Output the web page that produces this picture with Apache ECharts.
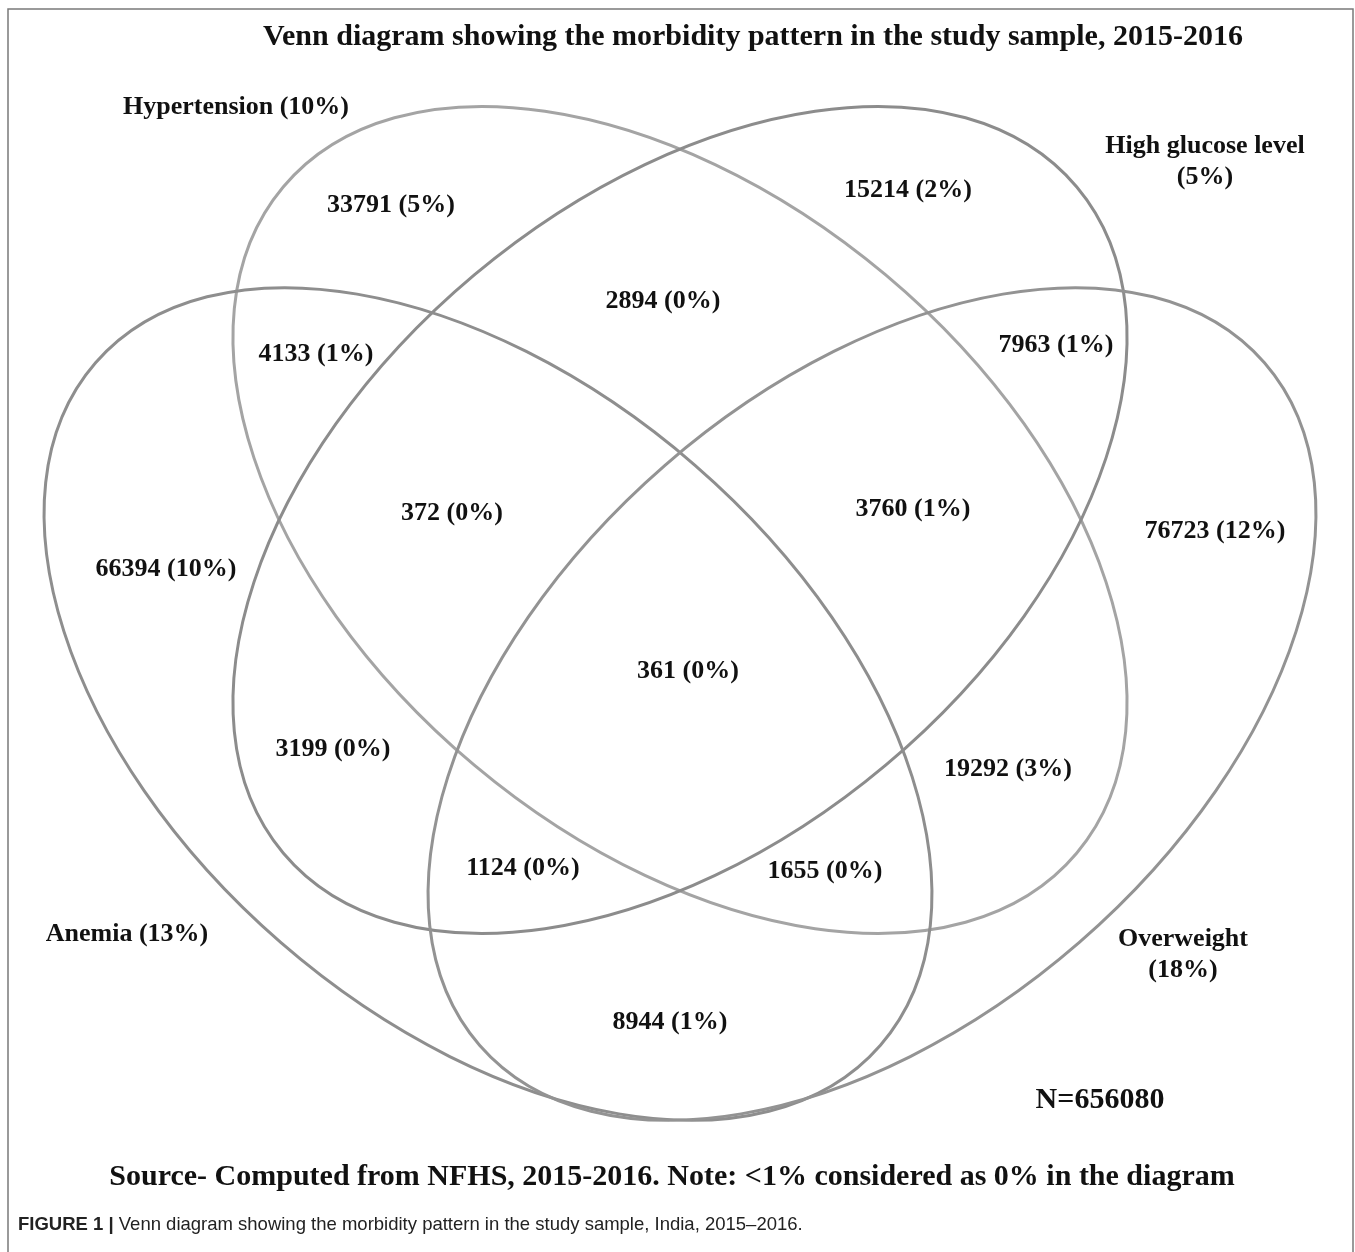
<!DOCTYPE html>
<html>
<head>
<meta charset="utf-8">
<title>Venn diagram - morbidity pattern</title>
<script src="https://cdn.jsdelivr.net/npm/echarts@6/dist/echarts.min.js"></script>
<style>
html, body { margin: 0; padding: 0; background: #fff; }
#chart { width: 1355px; height: 1252px; }
</style>
</head>
<body>
<div id="chart"></div>
<script>
// the four sets
const setNames = ['Hypertension', 'High glucose level', 'Anemia', 'Overweight']
const setPercents = [10, 5, 13, 18]

// the 15 regions: H=hypertension, G=glucose, A=anemia, O=overweight
const regionSets = ['H', 'G', 'A', 'O', 'HG', 'HA', 'GO', 'HO', 'GA', 'AO', 'HGA', 'HGO', 'HAO', 'GAO', 'HGAO']
const regionCounts = [33791, 15214, 66394, 76723, 2894, 4133, 7963, 19292, 3199, 8944, 372, 3760, 1655, 1124, 361]
const regionPercents = [5, 2, 10, 12, 0, 1, 1, 3, 0, 1, 0, 1, 0, 0, 0]
const totalN = 656080

// layout in diagram units (axes run 0..1355 and 0..1252)
// ellipse: centre x, centre y, semi-major, semi-minor, tilt in degrees (clockwise)
const ellipseLayout = [
  [680, 520, 518, 320, 40],
  [680, 520, 518, 320, -40],
  [488, 704, 520, 316, 41],
  [872, 704, 520, 316, -41]
]
const ellipseColors = ['#a4a4a4', '#8c8c8c', '#8e8e8e', '#939393']
const regionLabelPos = [
  [391, 205], [908, 190], [166, 569], [1215, 531],
  [663, 301], [316, 354], [1056, 345], [1008, 769], [333, 749], [670, 1022],
  [452, 513], [913, 509], [825, 871], [523, 868],
  [688, 671]
]
const setLabelPos = [[236, 107], [1205, 162], [127, 934], [1183, 955]]
const setLabelBreak = [false, true, false, true]

const serif = 'Liberation Serif, Times New Roman, serif'

const chart = echarts.init(document.getElementById('chart'))

const regionData = regionCounts.map((v, i) => ({
  value: regionLabelPos[i],
  name: v + ' (' + regionPercents[i] + '%)'
}))
const setLabelData = setNames.map((n, i) => ({
  value: setLabelPos[i],
  name: n + (setLabelBreak[i] ? '\n' : ' ') + '(' + setPercents[i] + '%)'
}))

function renderEllipse(params, api) {
  const c = api.coord([api.value(0), api.value(1)])
  const s = api.size([api.value(2), api.value(3)])
  return {
    type: 'ellipse',
    x: c[0],
    y: c[1],
    rotation: -api.value(4) * Math.PI / 180,
    shape: {cx: 0, cy: 0, rx: s[0], ry: s[1]},
    style: {fill: 'none', stroke: ellipseColors[params.dataIndex], lineWidth: 3}
  }
}

function textRenderer(list) {
  return function (params, api) {
    const c = api.coord([api.value(0), api.value(1)])
    return {
      type: 'text',
      x: c[0],
      y: c[1],
      style: {
        text: list[params.dataIndex].name,
        fontFamily: serif,
        fontWeight: 'bold',
        fontSize: 26,
        lineHeight: 31,
        fill: '#111',
        align: 'center',
        verticalAlign: 'middle',
        textAlign: 'center',
        textVerticalAlign: 'middle'
      }
    }
  }
}

const option = {
  animation: false,
  backgroundColor: '#fff',
  grid: {left: 0, right: 0, top: 0, bottom: 0},
  xAxis: {type: 'value', min: 0, max: 1355, show: false},
  yAxis: {type: 'value', min: 0, max: 1252, inverse: true, show: false},
  graphic: [
    {
      type: 'rect',
      shape: {x: 8, y: 9, width: 1345, height: 1280},
      style: {fill: 'none', stroke: '#7a7a7a', lineWidth: 1.5},
      silent: true
    },
    {
      type: 'text',
      x: 753,
      y: 37,
      style: {
        text: 'Venn diagram showing the morbidity pattern in the study sample, 2015-2016',
        fontFamily: serif, fontWeight: 'bold', fontSize: 30, fill: '#111',
        align: 'center', verticalAlign: 'middle', textAlign: 'center', textVerticalAlign: 'middle'
      }
    },
    {
      type: 'text',
      x: 1100,
      y: 1100,
      style: {
        text: 'N=' + totalN,
        fontFamily: serif, fontWeight: 'bold', fontSize: 30, fill: '#111',
        align: 'center', verticalAlign: 'middle', textAlign: 'center', textVerticalAlign: 'middle'
      }
    },
    {
      type: 'text',
      x: 672,
      y: 1177,
      style: {
        text: 'Source- Computed from NFHS, 2015-2016. Note: <1% considered as 0% in the diagram',
        fontFamily: serif, fontWeight: 'bold', fontSize: 30, fill: '#111',
        align: 'center', verticalAlign: 'middle', textAlign: 'center', textVerticalAlign: 'middle'
      }
    },
    {
      type: 'text',
      x: 18,
      y: 1225,
      style: {
        text: '{b|FIGURE 1 |} Venn diagram showing the morbidity pattern in the study sample, India, 2015\u20132016.',
        fontFamily: 'Liberation Sans, Arial, sans-serif', fontSize: 18.5, fill: '#222',
        align: 'left', verticalAlign: 'middle', textAlign: 'left', textVerticalAlign: 'middle',
        rich: {b: {fontFamily: 'Liberation Sans, Arial, sans-serif', fontSize: 18.5, fontWeight: 'bold', fill: '#222'}}
      }
    }
  ],
  series: [
    {
      name: 'sets',
      type: 'custom',
      renderItem: renderEllipse,
      silent: true,
      data: ellipseLayout
    },
    {
      name: 'regions',
      type: 'custom',
      renderItem: textRenderer(regionData),
      silent: true,
      z: 3,
      data: regionData
    },
    {
      name: 'set labels',
      type: 'custom',
      renderItem: textRenderer(setLabelData),
      silent: true,
      z: 3,
      data: setLabelData
    }
  ]
}

chart.setOption(option)
</script>
</body>
</html>
